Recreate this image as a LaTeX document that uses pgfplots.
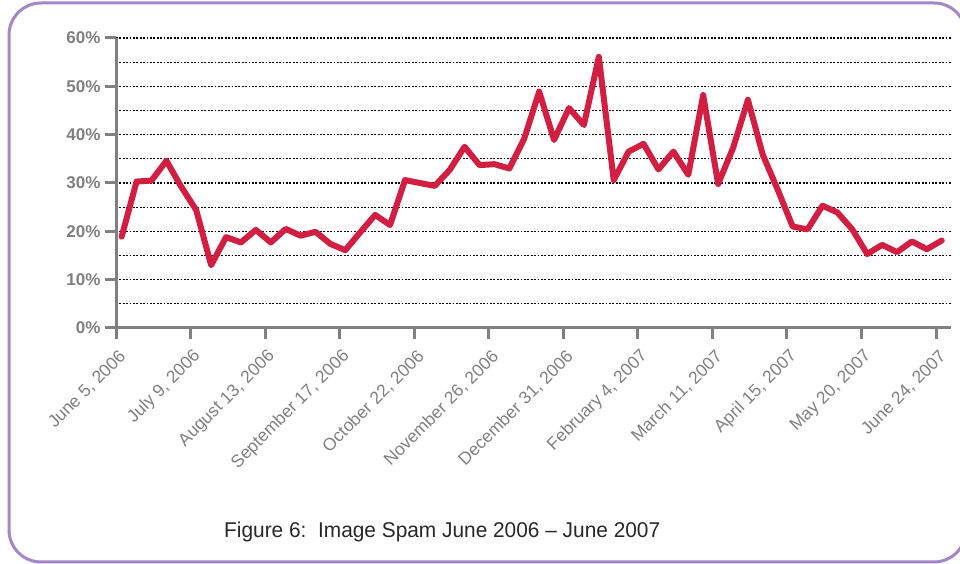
\documentclass[border=0pt]{standalone}
\usepackage{pgfplots}
\pgfplotsset{compat=1.18}
\usepackage{fontspec}
\setmainfont{Liberation Sans}
\definecolor{spamred}{RGB}{210,30,65}
\definecolor{axgray}{RGB}{128,128,128}
\definecolor{lblgray}{RGB}{128,128,128}
\definecolor{framepurple}{RGB}{165,135,200}
\definecolor{captiongray}{RGB}{40,40,40}
\begin{document}
\begin{tikzpicture}[x=1pt,y=1pt]
\useasboundingbox (0,0) rectangle (960,564);
\clip (0,0) rectangle (960,564);
\draw[framepurple, line width=3pt, rounded corners=32pt] (9,561) rectangle (966,2);
\begin{axis}[
  at={(116pt,236pt)}, anchor=south west,
  scale only axis, width=835pt, height=290pt,
  xmin=0, xmax=56, ymin=0, ymax=60,
  axis x line*=bottom, axis y line*=left,
  axis line style={axgray, line width=3pt},
  xtick={0,5,10,15,20,25,30,35,40,45,50,55},
  xticklabels={{June 5, 2006},{July 9, 2006},{August 13, 2006},{September 17, 2006},{October 22, 2006},{November 26, 2006},{December 31, 2006},{February 4, 2007},{March 11, 2007},{April 15, 2007},{May 20, 2007},{June 24, 2007}},
  ytick={0,10,20,30,40,50,60},
  yticklabels={0\%,10\%,20\%,30\%,40\%,50\%,60\%},
  minor ytick={5,15,25,35,45,55},
  ymajorgrids, yminorgrids,
  major grid style={black, line width=1.3pt, dash pattern=on 1.7pt off 1.7pt},
  minor grid style={black, line width=1.3pt, dash pattern=on 1.7pt off 1.7pt},
  tick align=outside,
  major tick length=11pt,
  minor tick length=0pt,
  tick style={axgray, line width=3pt},
  yticklabel style={font=\fontsize{17}{17}\selectfont\bfseries, text=lblgray, xshift=-1pt},
  xticklabel style={font=\fontsize{17.5}{17.5}\selectfont, text=lblgray, rotate=45, anchor=east, xshift=-2pt, yshift=-15.5pt},
  clip=false,
]
\addplot[spamred, line width=6pt, line join=round, line cap=round] coordinates {
(0.38,18.9) (1.38,30.3) (2.38,30.5) (3.38,34.6) (4.38,29.2) (5.38,24.4)
(6.38,13.0) (7.38,18.8) (8.38,17.7) (9.38,20.3) (10.38,17.7) (11.38,20.5)
(12.38,19.1) (13.38,19.9) (14.38,17.4) (15.38,16.1) (16.38,19.8) (17.38,23.4)
(18.38,21.3) (19.38,30.6) (20.38,30.0) (21.38,29.4) (22.38,32.7) (23.38,37.5)
(24.38,33.7) (25.38,33.9) (26.38,33.0) (27.38,39.2) (28.38,48.9) (29.38,38.9)
(30.38,45.5) (31.38,42.0) (32.38,56.1) (33.38,30.6) (34.38,36.5) (35.38,38.1)
(36.38,32.8) (37.38,36.5) (38.38,31.7) (39.38,48.2) (40.38,29.8) (41.38,37.2)
(42.38,47.2) (43.38,35.8) (44.38,28.6) (45.38,21.0) (46.38,20.4) (47.38,25.3)
(48.38,23.9) (49.38,20.4) (50.38,15.3) (51.38,17.2) (52.38,15.7) (53.38,17.9)
(54.38,16.3) (55.38,18.1)
};
\end{axis}
\node[anchor=base west, inner sep=0pt, text=captiongray] at (224,26) {\resizebox{436pt}{15.5pt}{\fontsize{21}{21}\selectfont Figure 6:\ \ Image Spam June 2006 -- June 2007}};
\end{tikzpicture}
\end{document}
